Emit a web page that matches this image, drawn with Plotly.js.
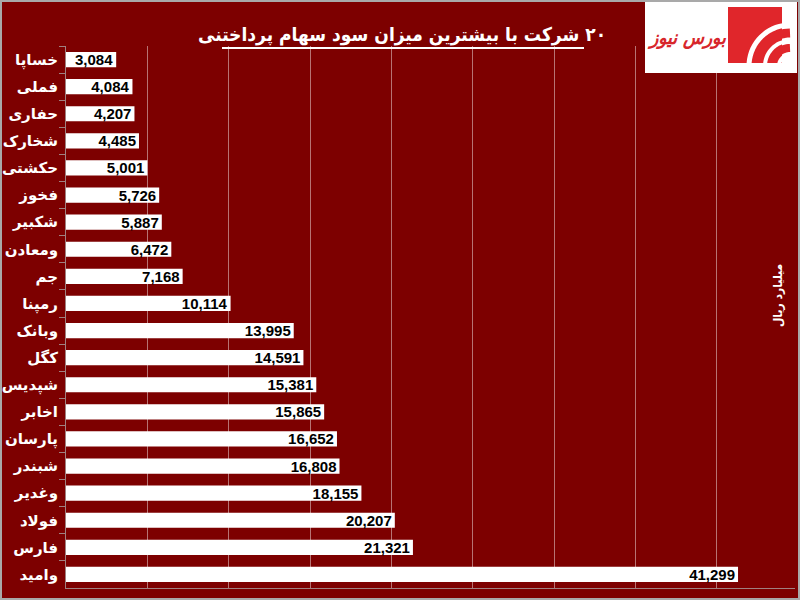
<!DOCTYPE html>
<html><head><meta charset="utf-8">
<script src="https://cdn.plot.ly/plotly-3.0.1.min.js"></script>
<style>body{margin:0;background:#7d0000}#chart{width:800px;height:600px}</style>
</head><body><div id="chart"></div>
<script>
const companies = ['خساپا','فملی','حفاری','شخارک','حکشتی','فخوز','شکبیر','ومعادن','جم','رمپنا','وبانک','کگل','شپدیس','اخابر','پارسان','شبندر','وغدیر','فولاد','فارس','وامید'];
const dividends = [3084,4084,4207,4485,5001,5726,5887,6472,7168,10114,13995,14591,15381,15865,16652,16808,18155,20207,21321,41299];
const titleText = '۲۰ شرکت با بیشترین میزان سود سهام پرداختنی';
const unitText = 'میلیارد ریال';
const logoText = 'بورس نیوز';

const L = 66, R = 795, T = 46, B = 588;
const px = x => (x - L) / (R - L);
const py = y => (B - y) / (B - T);
const bg = '#7d0000';
const RLM = '\u200F';

const trace = {
  type: 'bar', orientation: 'h',
  y: companies, x: dividends,
  text: dividends.map(v => v.toLocaleString('en-US')),
  textposition: 'inside', insidetextanchor: 'end', constraintext: 'none',
  textfont: {family: 'Liberation Sans, Arial', size: 15, color: '#000', weight: 'bold'},
  marker: {color: '#ffffff', line: {width: 0}},
  hoverinfo: 'none', cliponaxis: false
};

function arc(cx, cy, r, a0, a1) {
  const pts = [];
  for (let a = a0; a <= a1; a += 5) {
    const t = a * Math.PI / 180;
    pts.push([cx + r * Math.cos(t), cy - r * Math.sin(t)]);
  }
  return 'M ' + pts.map(p => px(p[0]).toFixed(5) + ',' + py(p[1]).toFixed(5)).join(' L ');
}

const red = '#e0262b';
const shapes = [
  {type: 'line', xref: 'paper', yref: 'paper', x0: px(222), x1: px(584), y0: py(48), y1: py(48), line: {color: '#ffffff', width: 2}},
  {type: 'rect', xref: 'paper', yref: 'paper', x0: px(645), x1: px(797), y0: py(2), y1: py(73), fillcolor: '#ffffff', line: {width: 0}},
  {type: 'rect', xref: 'paper', yref: 'paper', x0: px(728), x1: px(782), y0: py(7), y1: py(63), fillcolor: red, line: {width: 0}},
  {type: 'path', xref: 'paper', yref: 'paper', path: arc(790, 66, 41, 95, 185), line: {color: '#ffffff', width: 5}},
  {type: 'path', xref: 'paper', yref: 'paper', path: arc(790, 66, 33, 90, 185), line: {color: red, width: 9}},
  {type: 'path', xref: 'paper', yref: 'paper', path: arc(790, 66, 25, 95, 185), line: {color: '#ffffff', width: 4}},
  {type: 'path', xref: 'paper', yref: 'paper', path: arc(790, 66, 18, 90, 185), line: {color: red, width: 8}},
  {type: 'path', xref: 'paper', yref: 'paper', path: arc(790, 66, 11, 95, 185), line: {color: '#ffffff', width: 4}},
  {type: 'rect', xref: 'paper', yref: 'paper', x0: px(645), x1: px(797), y0: py(63), y1: py(73), fillcolor: '#ffffff', line: {width: 0}},
  {type: 'rect', xref: 'paper', yref: 'paper', x0: px(1), x1: px(799), y0: py(1), y1: py(599), line: {color: '#a9a9a9', width: 2}}
];

const layout = {
  width: 800, height: 600,
  paper_bgcolor: bg, plot_bgcolor: bg,
  margin: {l: L, r: 800 - R, t: T, b: 600 - B, pad: 0},
  showlegend: false, bargap: 0.44,
  font: {family: 'DejaVu Sans', color: '#ffffff'},
  title: {text: '<b>' + RLM + titleText + '</b>', x: 0.5025, xanchor: 'center', y: 1 - 34/600, yanchor: 'middle',
          font: {family: 'DejaVu Sans Condensed, DejaVu Sans', size: 19, color: '#ffffff'}},
  xaxis: {range: [0, 44800], dtick: 5000, showticklabels: false, showgrid: true,
          gridcolor: 'rgba(255,255,255,0.45)', gridwidth: 1, zeroline: false,
          showline: true, linecolor: '#a08080', linewidth: 1, ticks: ''},
  yaxis: {autorange: 'reversed', type: 'category', tickson: 'boundaries', ticks: 'outside',
          ticklen: 6, tickcolor: '#a08080', showline: true, linecolor: '#a08080', showgrid: false,
          tickfont: {family: 'DejaVu Sans', size: 15, color: '#ffffff', weight: 'bold'}, ticklabelstandoff: 4},
  shapes: shapes,
  annotations: [
    {xref: 'paper', yref: 'paper', x: px(778), y: py(296), xanchor: 'center', yanchor: 'middle',
     text: '<b>' + unitText + '</b>', textangle: -90,
     showarrow: false, font: {family: 'DejaVu Sans Condensed, DejaVu Sans', size: 12, color: '#ffffff'}},
    {xref: 'paper', yref: 'paper', x: px(687), y: py(38), xanchor: 'center', yanchor: 'middle',
     text: '<b><i>' + logoText + '</i></b>',
     showarrow: false, font: {family: 'DejaVu Sans Condensed, DejaVu Sans', size: 19, color: '#d7262b'}}
  ]
};

Plotly.newPlot('chart', [trace], layout, {displayModeBar: false, staticPlot: true});
</script></body></html>
